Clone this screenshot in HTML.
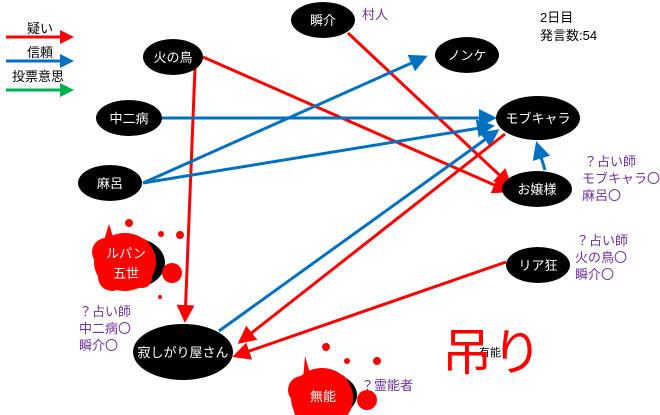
<!DOCTYPE html>
<html><head><meta charset="utf-8"><style>
html,body{margin:0;padding:0;background:#fff;width:660px;height:415px;overflow:hidden}
svg{display:block;font-family:"Liberation Sans","Noto Sans CJK JP",sans-serif}
</style></head><body>
<svg width="660" height="415" viewBox="0 0 660 415" xmlns="http://www.w3.org/2000/svg">
<defs>
<marker id="r" markerWidth="6" markerHeight="6" refX="5" refY="3" orient="auto" markerUnits="strokeWidth"><path d="M0,0L6,3L0,6z" fill="#f00"/></marker>
<marker id="b" markerWidth="6" markerHeight="6" refX="5" refY="3" orient="auto" markerUnits="strokeWidth"><path d="M0,0L6,3L0,6z" fill="#0070c0"/></marker>
</defs>
<g font-size="13" fill="#000">
<text x="27" y="33">疑い</text>
<text x="27" y="57">信頼</text>
<text x="12" y="81">投票意思</text>
</g>
<line x1="6" y1="37" x2="60" y2="37" stroke="#f00" stroke-width="3"/><path d="M60,30L74,37L60,44z" fill="#f00"/>
<line x1="6" y1="61" x2="60" y2="61" stroke="#0070c0" stroke-width="3"/><path d="M60,54L74,61L60,68z" fill="#0070c0"/>
<line x1="6" y1="90" x2="60" y2="90" stroke="#00b050" stroke-width="3"/><path d="M60,83L74,90L60,97z" fill="#00b050"/>

<g stroke-width="3" fill="none">
<line x1="203" y1="57" x2="508" y2="191" stroke="#f00" marker-end="url(#r)"/>
<line x1="195" y1="68" x2="185" y2="320" stroke="#f00" marker-end="url(#r)"/>
<line x1="348" y1="33" x2="510" y2="185" stroke="#f00" marker-end="url(#r)"/>
<line x1="162" y1="118" x2="494" y2="118" stroke="#0070c0" marker-end="url(#b)"/>
<line x1="143" y1="183" x2="425" y2="57" stroke="#0070c0" marker-end="url(#b)"/>
<line x1="143" y1="183" x2="492" y2="126" stroke="#0070c0" marker-end="url(#b)"/>
<line x1="219" y1="331" x2="497" y2="131" stroke="#0070c0" marker-end="url(#b)"/>
<line x1="505" y1="134" x2="240" y2="342" stroke="#f00" marker-end="url(#r)"/>
<line x1="506" y1="262" x2="235" y2="356" stroke="#f00" marker-end="url(#r)"/>
<line x1="545" y1="170" x2="537" y2="144" stroke="#0070c0" marker-end="url(#b)"/>
</g>

<g fill="#000">
<ellipse cx="323" cy="20" rx="32" ry="18"/>
<ellipse cx="173" cy="57" rx="30" ry="18"/>
<ellipse cx="467" cy="55" rx="32" ry="18"/>
<ellipse cx="129" cy="118" rx="33" ry="18"/>
<ellipse cx="538" cy="118" rx="42" ry="22"/>
<ellipse cx="110" cy="183" rx="32" ry="18"/>
<ellipse cx="537" cy="189" rx="35" ry="18"/>
<ellipse cx="538" cy="265" rx="32" ry="18"/>
<ellipse cx="183" cy="352" rx="50" ry="28"/>
<ellipse cx="133" cy="263" rx="32" ry="25"/>
<ellipse cx="327" cy="395" rx="30" ry="22"/>
</g>
<g fill="#f00">
<ellipse cx="125" cy="262" rx="31" ry="29"/><circle cx="106" cy="252" r="14"/><circle cx="112" cy="277" r="14"/><circle cx="140" cy="248" r="10"/><circle cx="142" cy="278" r="10"/>
<circle cx="172" cy="273" r="10"/><circle cx="129" cy="223" r="4"/><circle cx="161" cy="234" r="3"/><circle cx="180" cy="235" r="4"/><circle cx="160" cy="297" r="2"/>
<path d="M104,240 L109,224 L114,240z"/>
<ellipse cx="322" cy="398" rx="31" ry="30"/><circle cx="302" cy="390" r="14"/><circle cx="306" cy="410" r="12"/><circle cx="338" cy="384" r="10"/><circle cx="342" cy="405" r="10"/>
<circle cx="367" cy="400" r="10"/><circle cx="326" cy="347" r="4"/><circle cx="347" cy="361" r="3"/><circle cx="377" cy="361" r="4"/>
<path d="M303,380 L305,356 L312,380z"/>
</g>

<g fill="#fff" font-size="13" text-anchor="middle">
<text x="323" y="25">瞬介</text>
<text x="173" y="62">火の鳥</text>
<text x="467" y="60">ノンケ</text>
<text x="129" y="123">中二病</text>
<text x="538" y="123">モブキャラ</text>
<text x="110" y="188">麻呂</text>
<text x="537" y="194">お嬢様</text>
<text x="538" y="270">リア狂</text>
<text x="183" y="357">寂しがり屋さん</text>
<text x="126" y="258">ルパン</text>
<text x="126" y="278">五世</text>
<text x="323" y="401">無能</text>
</g>

<g fill="#7030a0" font-size="13">
<text x="362" y="19">村人</text>
<text x="584" y="166">？占い師</text><text x="582" y="183">モブキャラ〇</text><text x="582" y="200">麻呂〇</text>
<text x="576" y="245">？占い師</text><text x="575" y="262">火の鳥〇</text><text x="575" y="279">瞬介〇</text>
<text x="79" y="316">？占い師</text><text x="79" y="333">中二病〇</text><text x="79" y="350">瞬介〇</text>
<text x="361" y="390">？霊能者</text>
</g>
<g fill="#000" font-size="13">
<text x="540" y="22">2日目</text><text x="540" y="40">発言数:54</text>
<text x="479" y="356" font-size="11">有能</text>
</g>
<text x="442" y="370" font-size="50" fill="#f00">吊り</text>
</svg>
</body></html>
